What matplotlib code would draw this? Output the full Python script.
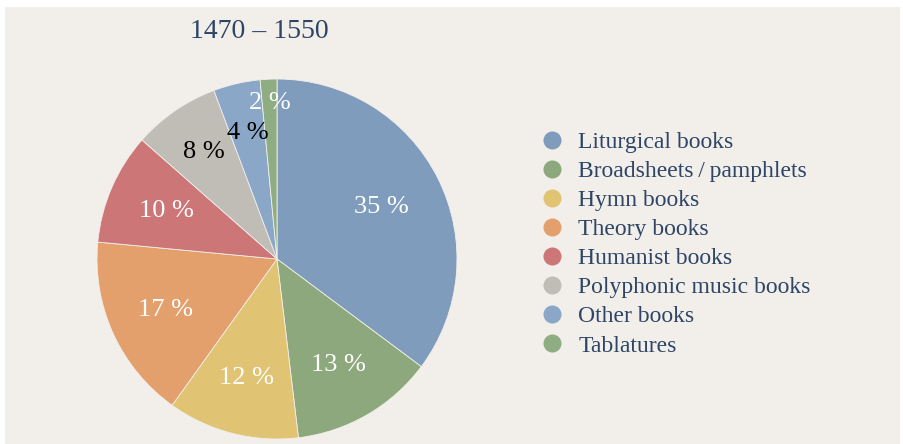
import matplotlib.pyplot as plt
from matplotlib.lines import Line2D
from matplotlib.patches import Rectangle
import numpy as np

# data
categories = ['Liturgical books', 'Broadsheets\u2009/\u2009pamphlets', 'Hymn books', 'Theory books',
              'Humanist books', 'Polyphonic music books', 'Other books', 'Tablatures']
shares = [35.2, 12.9, 11.8, 16.6, 10.0, 7.8, 4.2, 1.5]
pct_labels = ['35 %', '13 %', '12 %', '17 %', '10 %', '8 %', '4 %', '2 %']
title = '1470 – 1550'

colors = ['#7f9cbc', '#8da87c', '#e0c473', '#e4a06c', '#cc7678', '#c0bcb6', '#8ba7c8', '#8fad82']
label_colors = ['white', 'white', 'white', 'white', 'white', 'black', 'black', 'white']
label_radius = [0.65, 0.68, 0.68, 0.68, 0.67, 0.72, 0.72, 0.87]

serif = ['Liberation Serif', 'DejaVu Serif']
navy = '#2e4566'

W, H = 904, 444
fig = plt.figure(figsize=(W / 100, H / 100), dpi=100, facecolor='white')
fig.add_artist(Rectangle((5 / W, 0), 895 / W, (H - 7) / H, transform=fig.transFigure,
                         facecolor='#f2efea', edgecolor='none', zorder=0))

cx, cy, r = 277, 259, 180
ax = fig.add_axes([(cx - r) / W, (H - cy - r) / H, 2 * r / W, 2 * r / H])
ax.set_aspect('equal')
ax.axis('off')

wedges, _ = ax.pie(shares, colors=colors, startangle=90, counterclock=False,
                   wedgeprops=dict(linewidth=0.6, edgecolor='#f2efea'))
ax.set_xlim(-1, 1)
ax.set_ylim(-1, 1)

for w, lab, col, rr in zip(wedges, pct_labels, label_colors, label_radius):
    ang = np.deg2rad((w.theta1 + w.theta2) / 2)
    ax.text(rr * np.cos(ang), rr * np.sin(ang), lab, color=col, family=serif,
            fontsize=19, ha='center', va='center')

fig.text(259 / W, 1 - 31 / H, title, family=serif, fontsize=20, color=navy,
         ha='center', va='center')

handles = [Line2D([], [], linestyle='none', marker='o', markersize=13,
                  markerfacecolor=c, markeredgecolor='none') for c in colors]
leg = fig.legend(handles, categories, loc='center left',
                 bbox_to_anchor=(542 / W, 1 - 244 / H), frameon=False,
                 prop=dict(family=serif, size=17), handlelength=0.85,
                 handletextpad=0.68, labelspacing=0.32, borderpad=0, borderaxespad=0)
for t in leg.get_texts():
    t.set_color(navy)

fig.savefig('out.png', dpi=100, facecolor=fig.get_facecolor())
